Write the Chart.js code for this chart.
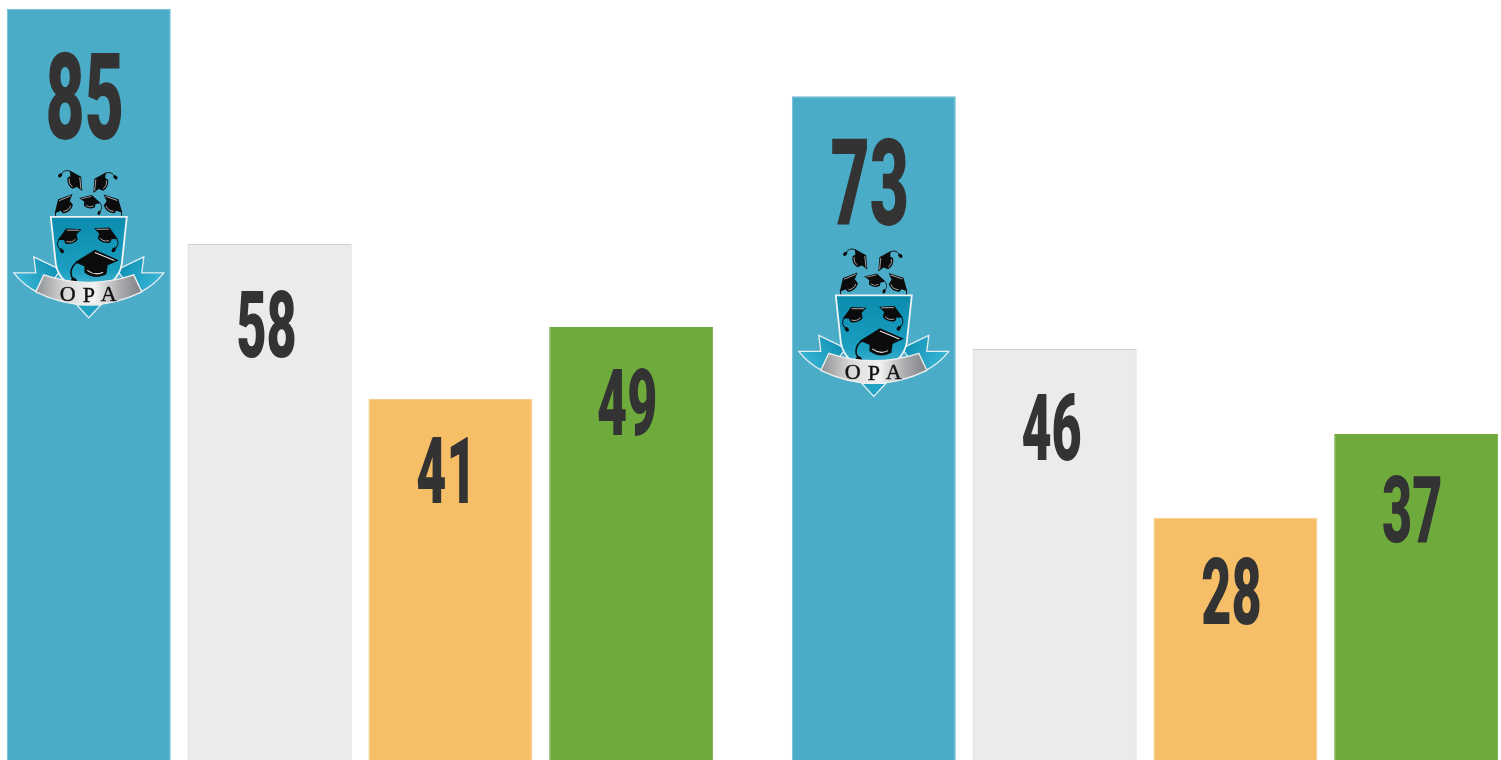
<!DOCTYPE html>
<html>
<head>
<meta charset="utf-8">
<title>OPA</title>
<script src="https://cdn.jsdelivr.net/npm/chart.js@4"></script>
<style>
  html, body { margin: 0; padding: 0; background: #fff; overflow: hidden; }
  #wrap { width: 1501px; height: 760px; }
</style>
</head>
<body>
<div id="wrap"><canvas id="grafico"></canvas></div>
<script>
const categories = ['Grupo 1', 'Grupo 2'];

// bar heights
const blueValues = [85, 75.1];
const greyValues = [58.4, 46.5];
const orangeValues = [40.85, 27.4];
const greenValues = [49, 36.9];

// numbers printed on the bars
const blueLabels = ['85', '73'];
const greyLabels = ['58', '46'];
const orangeLabels = ['41', '28'];
const greenLabels = ['49', '37'];

function mortarboard(c, x, y, size, rot, flip) {
  c.save();
  c.translate(x, y);
  c.rotate(rot);
  c.scale(size * (flip ? -1 : 1), size);
  c.fillStyle = '#0c0c0c';
  c.beginPath();
  c.moveTo(-1, -0.1);
  c.lineTo(0.1, -0.55);
  c.lineTo(1, 0.05);
  c.lineTo(0.05, 0.42);
  c.closePath();
  c.fill();
  c.beginPath();
  c.moveTo(-0.5, 0.15);
  c.lineTo(-0.45, 0.55);
  c.quadraticCurveTo(0.05, 0.85, 0.55, 0.5);
  c.lineTo(0.55, 0.2);
  c.closePath();
  c.fill();
  c.strokeStyle = '#e8e8e8';
  c.lineWidth = 0.05;
  c.beginPath();
  c.moveTo(-0.8, -0.08);
  c.lineTo(0.1, -0.42);
  c.moveTo(-0.3, 0.46);
  c.quadraticCurveTo(0.05, 0.66, 0.42, 0.4);
  c.stroke();
  c.strokeStyle = '#0c0c0c';
  c.lineWidth = 0.07;
  c.beginPath();
  c.moveTo(0.9, 0.05);
  c.bezierCurveTo(1.25, 0.3, 1.2, 0.7, 1.0, 0.85);
  c.stroke();
  c.fillStyle = '#0c0c0c';
  c.beginPath();
  c.ellipse(1.0, 0.95, 0.14, 0.2, 0.3, 0, Math.PI * 2);
  c.fill();
  c.restore();
}

function drawEmblem(c, cx, top) {
  c.save();
  c.translate(cx, top);

  // caps above the shield
  mortarboard(c, -13, 13, 12, 1.1, true);
  mortarboard(c, 11, 15, 12, -1.1, false);
  mortarboard(c, -25, 36, 13, -0.75, true);
  mortarboard(c, 1, 33, 11, 0.15, false);
  mortarboard(c, 24, 36, 13, 0.7, false);

  // ribbon tails, mirrored
  [-1, 1].forEach(function (side) {
    c.save();
    c.scale(side, 1);
    const g = c.createLinearGradient(30, 90, 72, 112);
    g.addColorStop(0, '#0a8db0');
    g.addColorStop(1, '#3ab5d5');
    c.fillStyle = g;
    c.strokeStyle = '#e4eef1';
    c.lineWidth = 1.3;
    c.beginPath();
    c.moveTo(28, 102);
    c.lineTo(55, 89);
    c.lineTo(53, 105);
    c.lineTo(75, 105);
    c.quadraticCurveTo(65, 118, 50, 125);
    c.lineTo(40, 118);
    c.closePath();
    c.fill();
    c.stroke();
    c.restore();
  });

  // shield
  const sg = c.createLinearGradient(0, 50, 0, 125);
  sg.addColorStop(0, '#0a8cae');
  sg.addColorStop(0.7, '#1b9fc1');
  sg.addColorStop(1, '#55bcd6');
  c.fillStyle = sg;
  c.strokeStyle = '#eef3f5';
  c.lineWidth = 1.8;
  c.beginPath();
  c.moveTo(-38, 49);
  c.lineTo(38, 49);
  c.lineTo(33, 96);
  c.quadraticCurveTo(30, 116, 0, 128);
  c.quadraticCurveTo(-30, 116, -33, 96);
  c.closePath();
  c.fill();
  c.stroke();

  // caps inside the shield
  mortarboard(c, -19, 67, 13, -0.35, true);
  mortarboard(c, 17, 66, 13, 0.35, false);
  mortarboard(c, 8, 94, 22, 0.03, true);

  // point under the banner
  c.fillStyle = '#22a3c4';
  c.strokeStyle = '#eef3f5';
  c.lineWidth = 1.3;
  c.beginPath();
  c.moveTo(-12, 137);
  c.lineTo(0, 150);
  c.lineTo(12, 137);
  c.closePath();
  c.fill();
  c.stroke();

  // silver banner
  const bg = c.createLinearGradient(-53, 0, 53, 0);
  bg.addColorStop(0, '#8e8f91');
  bg.addColorStop(0.28, '#d9d9da');
  bg.addColorStop(0.55, '#f4f4f4');
  bg.addColorStop(0.8, '#a9aaac');
  bg.addColorStop(1, '#808184');
  c.fillStyle = bg;
  c.strokeStyle = '#eeeeee';
  c.lineWidth = 1.4;
  c.beginPath();
  c.moveTo(-45, 107);
  c.quadraticCurveTo(0, 122, 45, 107);
  c.lineTo(53, 124);
  c.quadraticCurveTo(0, 150, -53, 124);
  c.closePath();
  c.fill();
  c.stroke();

  c.fillStyle = '#111';
  c.strokeStyle = '#111';
  c.lineWidth = 0.4;
  c.font = '22px "Liberation Serif"';
  c.textAlign = 'center';
  c.textBaseline = 'alphabetic';
  [['O', -21, 133], ['P', 0, 134], ['A', 20, 133]].forEach(function (l) {
    c.fillText(l[0], l[1], l[2]);
    c.strokeText(l[0], l[1], l[2]);
  });
  c.restore();
}

const barText = {
  id: 'barText',
  afterDatasetsDraw(chart) {
    const c = chart.ctx;
    chart.data.datasets.forEach(function (ds, i) {
      chart.getDatasetMeta(i).data.forEach(function (bar, j) {
        // condensed look: squeeze a heavy face sideways
        c.save();
        c.translate(bar.x + ds.textShift, bar.y + ds.textDrop[j]);
        c.scale(0.56, 1);
        c.font = '900 ' + ds.textSize + 'px Roboto';
        c.textAlign = 'center';
        c.textBaseline = 'alphabetic';
        c.fillStyle = '#333333';
        c.fillText(ds.shown[j], 0, 0);
        c.restore();
        if (ds.emblemDrop) drawEmblem(c, bar.x, bar.y + ds.emblemDrop[j]);
      });
    });
  }
};

new Chart(document.getElementById('grafico'), {
  type: 'bar',
  data: {
    labels: categories,
    datasets: [
      { data: blueValues, shown: blueLabels, backgroundColor: '#4bacc8', borderColor: '#6dbbd2', borderWidth: 1,
        textSize: 121, textDrop: [130, 129], textShift: -4, emblemDrop: [159, 150], clip: false },
      { data: greyValues, shown: greyLabels, backgroundColor: '#ebebeb', borderColor: '#cfcfcf', borderWidth: 1,
        textSize: 93, textDrop: [113, 111], textShift: -3, clip: false },
      { data: orangeValues, shown: orangeLabels, backgroundColor: '#f6be67', borderColor: '#f6cb8a', borderWidth: 1,
        textSize: 93, textDrop: [104, 106], textShift: -4, clip: false },
      { data: greenValues, shown: greenLabels, backgroundColor: '#6eab3c', borderColor: '#6eab3c', borderWidth: 1,
        textSize: 93, textDrop: [108, 108], textShift: -4, clip: false }
    ]
  },
  options: {
    responsive: true,
    maintainAspectRatio: false,
    animation: false,
    layout: { padding: { left: 360, right: 356, top: 0, bottom: 0 } },
    barPercentage: 0.907,
    categoryPercentage: 0.9213,
    plugins: { legend: { display: false }, tooltip: { enabled: false } },
    scales: {
      x: { display: false, offset: false },
      y: { display: false, min: 0, max: 86 }
    }
  },
  plugins: [barText]
});
</script>
</body>
</html>
